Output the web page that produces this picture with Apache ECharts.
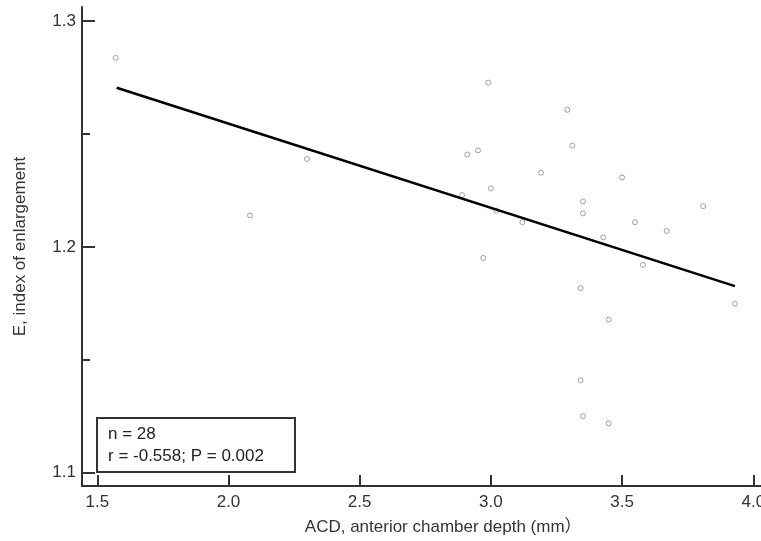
<!DOCTYPE html>
<html lang="en">
<head>
    <meta charset="utf-8">
    <title>ACD vs E</title>
    <script src="https://cdn.jsdelivr.net/npm/echarts@6/dist/echarts.min.js"></script>
    <style>
        html, body { margin: 0; padding: 0; background: #fff; }
        #main { width: 761px; height: 541px; }
    </style>
</head>
<body>
<div id="main"></div>
<script>
    // ACD (mm) and E for each eye
    var acd = [1.570, 2.082, 2.299, 2.990, 3.291, 2.910, 2.951, 3.310, 3.191, 3.000,
               2.890, 3.021, 3.120, 3.351, 3.351, 3.428, 3.500, 3.809, 3.549, 3.670,
               3.580, 3.342, 3.930, 3.449, 3.342, 3.351, 3.449, 2.971];
    var eIndex = [1.2837, 1.2139, 1.2389, 1.2727, 1.2607, 1.2409, 1.2427, 1.2448, 1.2328, 1.2259,
                  1.2229, 1.2160, 1.2109, 1.2201, 1.2148, 1.2042, 1.2307, 1.2180, 1.2109, 1.2070,
                  1.1920, 1.1817, 1.1748, 1.1678, 1.1409, 1.1250, 1.1218, 1.1951];
    // regression line ends
    var fitX = [1.574, 3.930];
    var fitY = [1.2704, 1.1826];
    // tick labels
    var xTicks = [1.5, 2.0, 2.5, 3.0, 3.5, 4.0];
    var yTicks = [1.1, 1.2, 1.3];
    var yMinor = [1.15, 1.25];

    var pts = [], fit = [];
    for (var i = 0; i < acd.length; i++) pts.push([acd[i], eIndex[i]]);
    for (var j = 0; j < fitX.length; j++) fit.push([fitX[j], fitY[j]]);

    var font = '"Liberation Sans", Arial, "Noto Sans CJK SC", sans-serif';
    var ink = '#333';

    var chart = echarts.init(document.getElementById('main'));
    chart.setOption({
        animation: false,
        grid: { left: 82, top: 7, right: -5.4, bottom: 55, containLabel: false, outerBoundsMode: 'none' },
        xAxis: {
            type: 'value',
            min: 1.4417, max: 4.05,
            name: 'ACD, anterior chamber depth (mm）',
            nameLocation: 'middle',
            nameGap: 33,
            nameTextStyle: { fontFamily: font, fontSize: 17, color: ink, padding: [0, 0, 0, 38] },
            axisLine: { lineStyle: { color: ink, width: 2 } },
            axisTick: { inside: true, length: 11, customValues: xTicks, lineStyle: { color: ink, width: 2 } },
            axisLabel: {
                customValues: xTicks, margin: 8,
                fontFamily: font, fontSize: 17, color: ink,
                formatter: function (v) { return v.toFixed(1); }
            },
            splitLine: { show: false }
        },
        yAxis: [{
            type: 'value',
            min: 1.0941, max: 1.3062,
            name: 'E, index of enlargement',
            nameLocation: 'middle',
            nameGap: 53,
            nameTextStyle: { fontFamily: font, fontSize: 17, color: ink },
            axisLine: { lineStyle: { color: ink, width: 2 } },
            axisTick: { inside: true, length: 13, customValues: yTicks, lineStyle: { color: ink, width: 2 } },
            axisLabel: {
                customValues: yTicks, margin: 6,
                fontFamily: font, fontSize: 17, color: ink,
                formatter: function (v) { return v.toFixed(1); }
            },
            splitLine: { show: false }
        }, {
            // minor ticks only
            type: 'value', position: 'left',
            min: 1.0941, max: 1.3062,
            axisLine: { show: false },
            axisTick: { inside: true, length: 8, customValues: yMinor, lineStyle: { color: ink, width: 2 } },
            axisLabel: { show: false },
            splitLine: { show: false }
        }],
        series: [{
            type: 'scatter',
            data: pts,
            symbol: 'circle',
            symbolSize: 5,
            itemStyle: { color: '#fff', borderColor: '#888', borderWidth: 1 },
            z: 3
        }, {
            type: 'line',
            data: fit,
            symbol: 'none',
            lineStyle: { color: '#000', width: 2.6 },
            z: 4
        }],
        graphic: [{
            type: 'rect',
            shape: { x: 97, y: 418, width: 198, height: 54 },
            style: { fill: '#fff', stroke: ink, lineWidth: 2 },
            z: 10
        }, {
            type: 'text',
            x: 108, y: 434,
            style: { text: 'n = 28', font: '17px ' + font, fill: '#222', verticalAlign: 'middle' },
            z: 11
        }, {
            type: 'text',
            x: 108, y: 456,
            style: { text: 'r = -0.558; P = 0.002', font: '17px ' + font, fill: '#222', verticalAlign: 'middle' },
            z: 11
        }]
    });
</script>
</body>
</html>
